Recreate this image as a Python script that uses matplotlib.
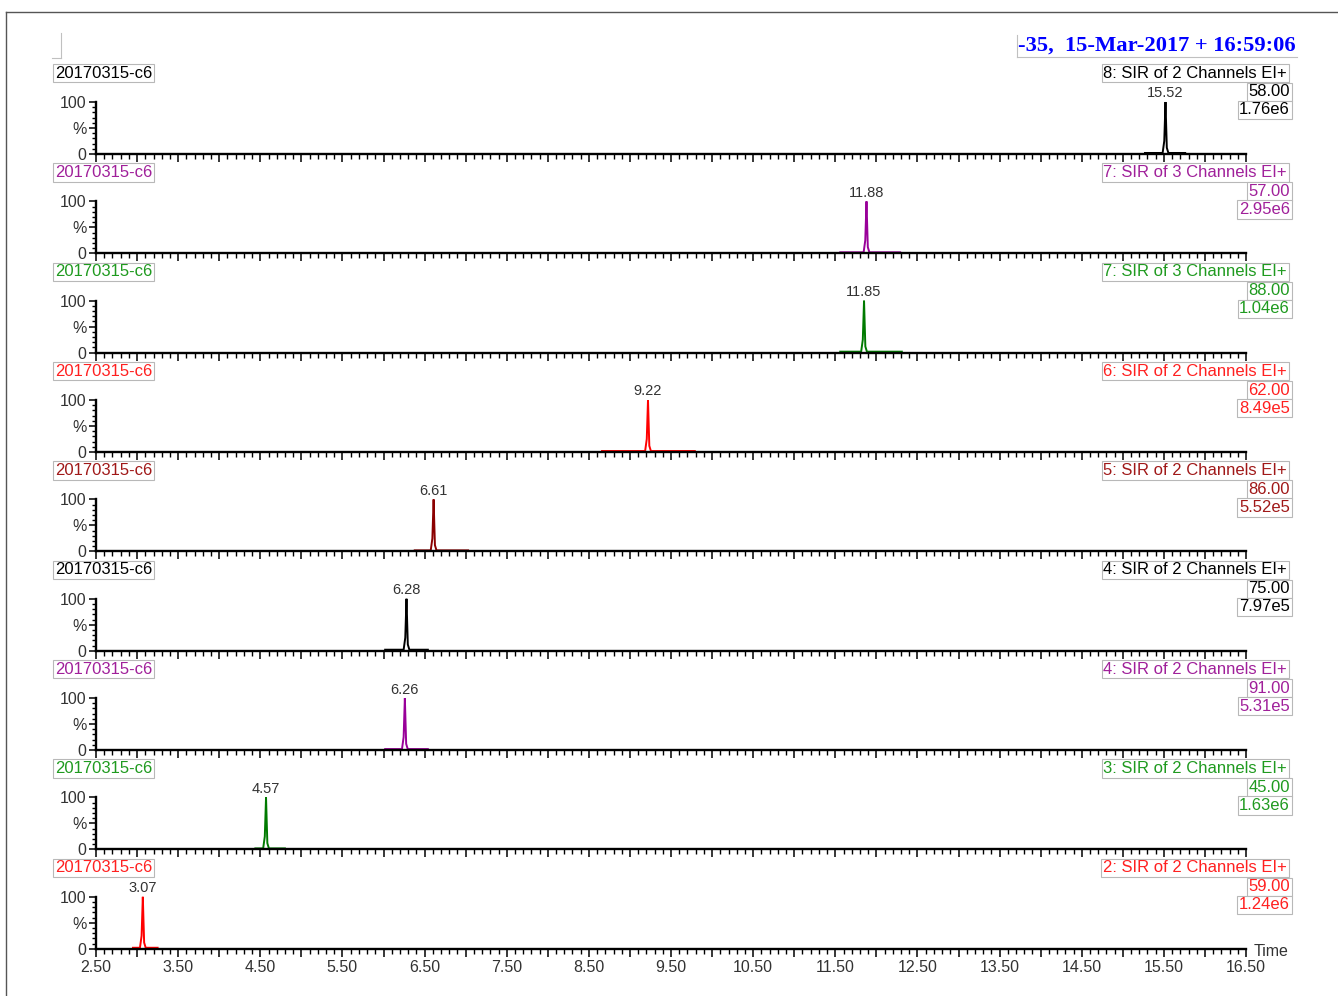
import numpy as np
import matplotlib
matplotlib.use('Agg')
import matplotlib.pyplot as plt
from matplotlib.lines import Line2D
from matplotlib.ticker import MultipleLocator

W, H = 1338, 996

# one entry per trace, top to bottom
functions = ["8", "7", "7", "6", "5", "4", "4", "3", "2"]
channels = [2, 3, 3, 2, 2, 2, 2, 2, 2]
masses = ["58.00", "57.00", "88.00", "62.00", "86.00", "75.00", "91.00", "45.00", "59.00"]
intensities = ["1.76e6", "2.95e6", "1.04e6", "8.49e5", "5.52e5", "7.97e5", "5.31e5", "1.63e6", "1.24e6"]
peak_rt = [15.52, 11.88, 11.85, 9.22, 6.61, 6.28, 6.26, 4.57, 3.07]
window_start = [15.27, 11.56, 11.56, 8.66, 6.38, 6.02, 6.02, 4.44, 2.95]
window_end = [15.76, 12.29, 12.31, 9.79, 7.03, 6.54, 6.54, 4.80, 3.25]
trace_colors = ["#000000", "#990099", "#007a00", "#ff0000", "#8b0000",
                "#000000", "#990099", "#007a00", "#ff0000"]
text_colors = ["#000000", "#a0209a", "#1f9a1f", "#ff2020", "#a01818",
               "#000000", "#a0209a", "#1f9a1f", "#ff2020"]

# peak shape: time offset from apex, % height
profile_dt = [-0.035, -0.015, -0.006, 0.0, 0.008, 0.016, 0.035]
profile_pct = [2, 25, 70, 100, 55, 12, 2]
baseline_pct = 2

sample_name = "20170315-c6"
header = "-35,  15-Mar-2017 + 16:59:06"
x_tick_labels = ["2.50", "3.50", "4.50", "5.50", "6.50", "7.50", "8.50",
                 "9.50", "10.50", "11.50", "12.50", "13.50", "14.50",
                 "15.50", "16.50"]

plt.rcParams['font.family'] = ['Liberation Sans', 'DejaVu Sans']

fig = plt.figure(figsize=(W / 100, H / 100), dpi=100)


def fx(x):
    return x / W


def fy(y):
    return 1 - y / H


box = dict(boxstyle='square,pad=0.1', fc='white', ec='#b8b8b8', lw=0.8)

# outer frame and little decorations
fig.add_artist(Line2D([fx(6), fx(6)], [fy(12), fy(996)], color='#555555', lw=1.0))
fig.add_artist(Line2D([fx(6), fx(1338)], [fy(12), fy(12)], color='#555555', lw=1.0))
fig.add_artist(Line2D([fx(61), fx(61)], [fy(33), fy(58)], color='#c0c0c0', lw=0.8))
fig.add_artist(Line2D([fx(52), fx(61)], [fy(58), fy(58)], color='#c0c0c0', lw=0.8))
fig.add_artist(Line2D([fx(1017), fx(1017)], [fy(35), fy(57)], color='#c0c0c0', lw=0.8))
fig.add_artist(Line2D([fx(1017), fx(1297)], [fy(57), fy(57)], color='#c0c0c0', lw=0.8))

fig.text(fx(1296), fy(46), header, ha='right', va='center', color='#0000ff',
         fontsize=16.2, fontweight='bold', family='Liberation Serif')

x0, x1 = 96, 1246
first_base, step, ax_h = 154, 99.35, 52
n = len(peak_rt)

for i in range(n):
    base = first_base + i * step
    ax = fig.add_axes([fx(x0), fy(base), (x1 - x0) / W, ax_h / H])
    ax.set_xlim(2.5, 16.5)
    ax.set_ylim(0, 100)
    ax.patch.set_alpha(0)
    for s in ['top', 'right']:
        ax.spines[s].set_visible(False)
    for s in ['left', 'bottom']:
        ax.spines[s].set_linewidth(1.7)

    ax.xaxis.set_major_locator(MultipleLocator(0.5))
    ax.xaxis.set_minor_locator(MultipleLocator(0.1))
    ax.yaxis.set_major_locator(MultipleLocator(50))
    ax.yaxis.set_minor_locator(MultipleLocator(10))
    ax.tick_params(axis='x', which='major', length=6, width=1.1, direction='out')
    ax.tick_params(axis='x', which='minor', length=3.5, width=1.0, direction='out')
    ax.tick_params(axis='y', which='major', length=5, width=1.1, pad=2,
                   labelsize=11.5, labelcolor='#333333')
    ax.tick_params(axis='y', which='minor', length=3, width=1.0)
    ax.set_yticks([0, 50, 100])
    ax.set_yticklabels(['0', '%', '100'])

    if i == n - 1:
        ax.set_xticks(np.arange(2.5, 16.51, 0.5))
        ax.set_xticklabels([lab for t in x_tick_labels for lab in (t, '')][:-1])
        ax.tick_params(axis='x', labelsize=11.5, labelcolor='#333333', pad=2)
        fig.text(fx(1254), fy(951), "Time", ha='left', va='center',
                 fontsize=11.5, color='#333333')
    else:
        ax.set_xticklabels([])

    # trace: flat noise window with the peak in it
    rt = peak_rt[i]
    xs = [window_start[i]] + [rt + d for d in profile_dt] + [window_end[i]]
    ys = [baseline_pct] + profile_pct + [baseline_pct]
    ax.plot(xs, ys, color=trace_colors[i], lw=1.4, clip_on=False,
            solid_joinstyle='miter')
    ax.text(rt, 103, f"{rt:.2f}", ha='center', va='bottom', fontsize=10.5,
            color='#333333')

    tc = text_colors[i]
    fig.text(fx(55), fy(base - 81), sample_name, ha='left', va='center',
             fontsize=12, color=tc, bbox=box)
    fig.text(fx(1287), fy(base - 81),
             f"{functions[i]}: SIR of {channels[i]} Channels EI+",
             ha='right', va='center', fontsize=12, color=tc, bbox=box)
    fig.text(fx(1290), fy(base - 62), masses[i], ha='right', va='center',
             fontsize=12, color=tc, bbox=box)
    fig.text(fx(1290), fy(base - 44), intensities[i], ha='right', va='center',
             fontsize=12, color=tc, bbox=box)

fig.savefig('out.png', dpi=100)
